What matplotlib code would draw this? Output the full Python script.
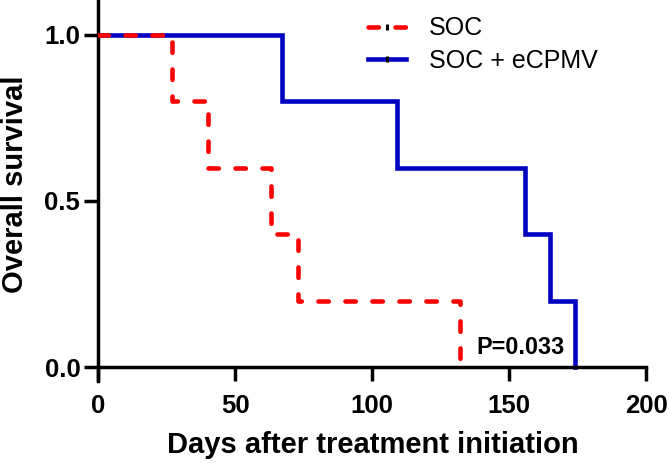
import matplotlib
matplotlib.use("Agg")
import matplotlib.pyplot as plt
from matplotlib.lines import Line2D

plt.rcParams['font.family'] = ['Liberation Sans', 'DejaVu Sans']

# Data (Kaplan-Meier steps)
soc_days = [0, 27, 40, 63, 73, 132]
soc_surv = [1.0, 0.8, 0.6, 0.4, 0.2, 0.0]
ecpmv_days = [0, 67, 109, 156, 165, 174]
ecpmv_surv = [1.0, 0.8, 0.6, 0.4, 0.2, 0.0]
series_labels = ["SOC", "SOC + eCPMV"]
x_ticks = [0, 50, 100, 150, 200]
y_ticks = [0.0, 0.5, 1.0]
p_text = "P=0.033"

fig = plt.figure(figsize=(6.69, 4.63), dpi=100)
ax = fig.add_axes([98/669, 1 - 381/463, 548/669, 381/463])

red = '#FF0000'
blue = '#0000C0'
lw = 3.3
dash = (0, (2.27, 3.62))

ax.step(ecpmv_days, ecpmv_surv, where='post', color=blue, lw=lw,
        solid_capstyle='projecting', solid_joinstyle='miter', zorder=2)
ax.step(soc_days, soc_surv, where='post', color=red, lw=lw,
        linestyle=dash, dash_capstyle='round', zorder=3)

ax.set_xlim(0, 200)
ax.set_ylim(-0.042, 1.105)
ax.set_xticks(x_ticks)
ax.set_yticks(y_ticks)
ax.set_yticklabels([f"{v:.1f}" for v in y_ticks])

for s in ['top', 'right']:
    ax.spines[s].set_visible(False)
ax.spines['bottom'].set_position(('data', 0))
for s in ['left', 'bottom']:
    ax.spines[s].set_linewidth(2.5)
ax.tick_params(axis='both', width=2.5, length=10, labelsize=18.5)
ax.tick_params(axis='y', pad=2.7)
ax.tick_params(axis='x', pad=9.5)
for t in ax.get_xticklabels() + ax.get_yticklabels():
    t.set_fontweight('bold')

ax.set_xlabel("Days after treatment initiation", fontsize=21, fontweight='bold')
ax.set_ylabel("Overall survival", fontsize=21, fontweight='bold')
ax.xaxis.label.set_verticalalignment('baseline')
ax.xaxis.set_label_coords(373/669, (463 - 453)/463, transform=fig.transFigure)
ax.yaxis.set_label_coords(29.4/669, (463 - 184)/463, transform=fig.transFigure)

ax.text(138, 0.039, p_text, fontsize=16.8, fontweight='bold', ha='left', va='baseline')

tick_mark = dict(color='black', marker='|', linestyle='none', markersize=5, mew=2.2)
h_soc = (Line2D([], [], color=red, lw=lw, linestyle=dash, dash_capstyle='round'),
         Line2D([], [], **tick_mark))
h_ec = (Line2D([], [], color=blue, lw=lw), Line2D([], [], **tick_mark))
leg = ax.legend([h_soc, h_ec], series_labels, loc='center left',
                bbox_to_anchor=(367.7/669, 1 - 44.6/463), bbox_transform=fig.transFigure,
                frameon=False, fontsize=18, handlelength=1.52, handletextpad=0.92,
                labelspacing=0.33, borderpad=0, borderaxespad=0)

fig.savefig("out.png", dpi=100)
